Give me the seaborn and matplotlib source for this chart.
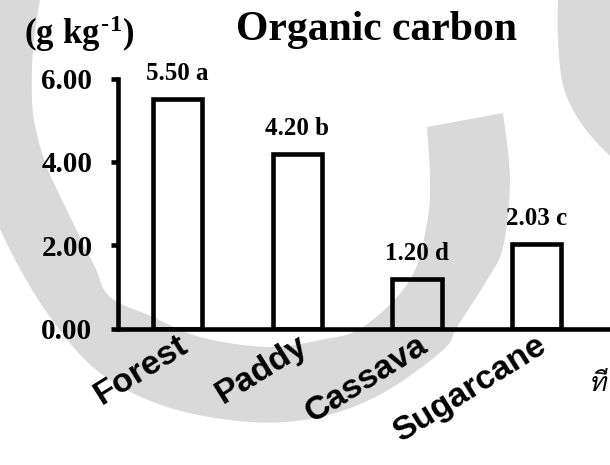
import numpy as np
import pandas as pd
import matplotlib
matplotlib.use("Agg")
import matplotlib.pyplot as plt
import matplotlib.transforms as mtransforms
from matplotlib.patches import Polygon
from matplotlib import font_manager, ft2font
import seaborn as sns

# ---- data ----
land_use = ["Forest", "Paddy", "Cassava", "Sugarcane"]
organic_carbon = [5.50, 4.20, 1.20, 2.03]
groups = ["a", "b", "d", "c"]
y_ticks = [0, 2, 4, 6]
title = "Organic carbon"
unit = r"$(g\ kg^{\text{-1}})$"
source_note = "ที"

sns.set_theme(style="white")
plt.rcParams["font.family"] = ["Liberation Serif", "DejaVu Serif"]
plt.rcParams["mathtext.fontset"] = "custom"
plt.rcParams["mathtext.rm"] = "Liberation Serif:bold"
plt.rcParams["mathtext.bf"] = "Liberation Serif:bold"
plt.rcParams["mathtext.it"] = "Liberation Serif:bold"

W, H = 610, 465
fig = plt.figure(figsize=(W / 100, H / 100), dpi=100)
fig.patch.set_facecolor("white")

# pixel frame with origin at the top-left corner, for the background emblem
px = mtransforms.Affine2D().scale(1 / W, -1 / H).translate(0, 1) + fig.transFigure


def smooth(pts, n=10):
    """Catmull-Rom curve through the given outline points."""
    p = np.asarray(pts, float)
    p = np.vstack([p[0], p, p[-1]])
    out = []
    t = np.linspace(0, 1, n, endpoint=False)[:, None]
    for i in range(1, len(p) - 2):
        p0, p1, p2, p3 = p[i - 1], p[i], p[i + 1], p[i + 2]
        seg = 0.5 * ((2 * p1) + (-p0 + p2) * t
                     + (2 * p0 - 5 * p1 + 4 * p2 - p3) * t ** 2
                     + (-p0 + 3 * p1 - 3 * p2 + p3) * t ** 3)
        out.append(seg)
    out.append(p[-2][None])
    return np.vstack(out)


ring_outer = [(-40, -10), (-35, 60), (-25, 130), (-12, 195), (10, 250), (50, 317),
              (100, 373), (167, 407), (250, 422), (320, 417), (383, 393),
              (443, 350), (457, 327), (487, 280), (503, 247), (510, 180), (503, 113)]
ring_inner = [(427, 127), (430, 180), (427, 223), (410, 280), (363, 327),
              (320, 340), (267, 347), (200, 337), (153, 317), (110, 297),
              (95, 267), (78, 233), (62, 200), (46, 165), (36, 130), (32, 100),
              (33, 50), (40, 0), (45, -10)]
corner_blob = [(558, -5), (558, 40), (563, 85), (577, 117), (597, 143),
               (620, 165), (620, -5)]

emblem = "#d9d9d9"
ring = np.vstack([smooth(ring_outer), smooth(ring_inner)])
fig.add_artist(Polygon(ring, closed=True, transform=px, facecolor=emblem,
                       edgecolor="none", zorder=-5))
fig.add_artist(Polygon(np.vstack([smooth(corner_blob[:-1]), corner_blob[-1:]]),
                       closed=True, transform=px, facecolor=emblem,
                       edgecolor="none", zorder=-5))

# ---- bar chart ----
ax = fig.add_axes([117.5 / W, 136.5 / H, 599 / W, 250 / H])
ax.set_facecolor("none")

df = pd.DataFrame({"land_use": land_use, "oc": organic_carbon})
sns.barplot(data=df, x="land_use", y="oc", color="white", saturation=1,
            edgecolor="black", linewidth=3.3, width=0.41, ax=ax)
# hollow bars: outline only
for bar in ax.containers[0]:
    bar.set_facecolor("none")

ax.set_xlim(-0.5, 4.5)
ax.set_ylim(0, 6)
ax.set_xlabel("")
ax.set_ylabel("")

labels = [f"{v:.2f} {g}" for v, g in zip(organic_carbon, groups)]
ax.bar_label(ax.containers[0], labels=labels, padding=10, fontsize=18,
             fontweight="bold", family="Liberation Serif", color="black")

for side in ("top", "right"):
    ax.spines[side].set_visible(False)
for side in ("left", "bottom"):
    ax.spines[side].set_linewidth(3.3)
    ax.spines[side].set_color("black")

ax.set_yticks(y_ticks)
ax.set_yticklabels([f"{v:.2f}" for v in y_ticks], fontsize=21,
                   fontweight="bold", family="Liberation Serif")
ax.tick_params(axis="y", left=True, direction="out", length=5, width=3.3,
               color="black", pad=13, labelcolor="black")
ax.tick_params(axis="x", bottom=False, length=0, pad=10)

shift = mtransforms.ScaledTranslation(8 / 100, 0, fig.dpi_scale_trans)
for lab in ax.get_xticklabels():
    lab.set_fontfamily("Liberation Sans")
    lab.set_fontweight("bold")
    lab.set_fontsize(24.5)
    lab.set_color("black")
    lab.set_rotation(32)
    lab.set_rotation_mode("anchor")
    lab.set_ha("right")
    lab.set_va("center")
    lab.set_transform(lab.get_transform() + shift)

fig.text(377 / W, 1 - 40 / H, title, ha="center", va="baseline", fontsize=30,
         fontweight="bold", family="Liberation Serif", color="black")
fig.text(24 / W, 1 - 44 / H, unit, ha="left", va="baseline", fontsize=25,
         color="black")


def thai_face(chars):
    """Pick an installed face that covers the note, preferring light italics."""
    found = []
    for f in sorted(font_manager.findSystemFonts()):
        try:
            ft = ft2font.FT2Font(f)
        except Exception:
            continue
        if all(ft.get_char_index(ord(c)) for c in chars):
            name = f.lower()
            bold = "bold" in name
            italic = "oblique" in name or "italic" in name
            found.append(((bold, not italic, name), f))
    return min(found)[1] if found else None


thai_font = thai_face(source_note)
if thai_font:
    fig.text(589 / W, 1 - 391 / H, source_note, ha="left", va="baseline",
             fontproperties=font_manager.FontProperties(fname=thai_font, size=19),
             color="black")

fig.savefig("out.png", dpi=100, facecolor="white")
